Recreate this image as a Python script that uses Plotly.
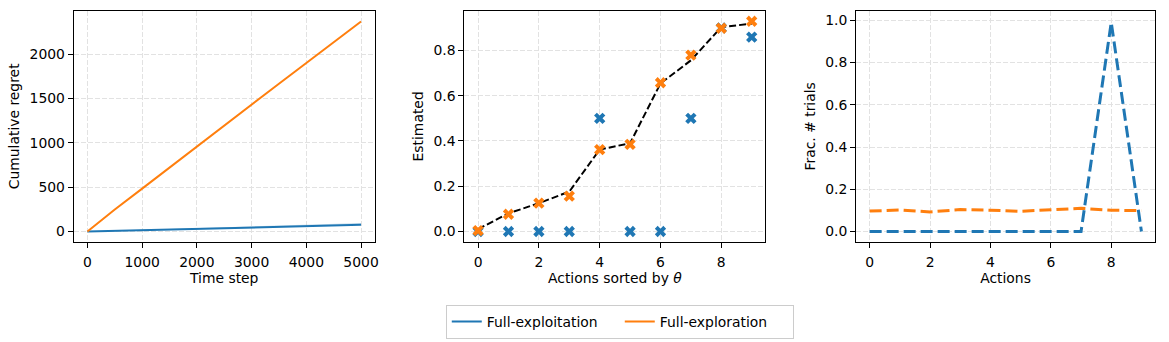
import plotly.graph_objects as go
from plotly.subplots import make_subplots

# ---------------- data ----------------
time_steps = [0, 250, 500, 1000, 1500, 2000, 2500, 3000, 3500, 4000, 4500, 5000]
regret_exploit = [0, 4, 8, 15, 23, 30, 38, 45, 53, 60, 68, 75]
regret_exploit_hi = [0, 5, 10, 19, 28, 38, 47, 57, 66, 76, 86, 95]
regret_explore = [0, 128, 248, 483, 720, 962, 1195, 1427, 1665, 1899, 2130, 2366]

actions = [0, 1, 2, 3, 4, 5, 6, 7, 8, 9]
theta_true = [0.010, 0.080, 0.125, 0.176, 0.362, 0.390, 0.654, 0.756, 0.903, 0.918]
est_exploit = [0.0, 0.0, 0.0, 0.0, 0.5, 0.0, 0.0, 0.5, 0.899, 0.859]
est_explore = [0.004, 0.076, 0.125, 0.156, 0.362, 0.385, 0.657, 0.779, 0.898, 0.929]

frac_exploit = [0.0, 0.0, 0.0, 0.0, 0.0, 0.0, 0.0, 0.0, 0.99, 0.0]
frac_explore = [0.097, 0.102, 0.093, 0.104, 0.101, 0.096, 0.103, 0.110, 0.101, 0.099]

series_names = ["Full-exploitation", "Full-exploration"]
BLUE = "#1f77b4"
ORANGE = "#ff7f0e"
FONT = "DejaVu Sans"
FS = 13.9

fig = make_subplots(rows=1, cols=3)

# Panel 1: cumulative regret
fig.add_trace(go.Scatter(x=time_steps, y=regret_exploit_hi, mode="lines",
                         line=dict(width=0), showlegend=False, hoverinfo="skip"), 1, 1)
fig.add_trace(go.Scatter(x=time_steps, y=regret_exploit, mode="lines",
                         line=dict(width=0), fill="tonexty",
                         fillcolor="rgba(31,119,180,0.25)", showlegend=False, hoverinfo="skip"), 1, 1)
fig.add_trace(go.Scatter(x=time_steps, y=regret_exploit, mode="lines",
                         line=dict(color=BLUE, width=2), name=series_names[0]), 1, 1)
fig.add_trace(go.Scatter(x=time_steps, y=regret_explore, mode="lines",
                         line=dict(color=ORANGE, width=2), name=series_names[1]), 1, 1)

# Panel 2: estimates
fig.add_trace(go.Scatter(x=actions, y=theta_true, mode="lines",
                         line=dict(color="black", width=2, dash="7px,3px"),
                         showlegend=False), 1, 2)
fig.add_trace(go.Scatter(x=actions, y=est_exploit, mode="markers",
                         marker=dict(symbol="x", size=10, color=BLUE, line=dict(width=0)),
                         showlegend=False), 1, 2)
fig.add_trace(go.Scatter(x=actions, y=est_explore, mode="markers",
                         marker=dict(symbol="x", size=10, color=ORANGE, line=dict(width=0)),
                         showlegend=False), 1, 2)

# Panel 3: fraction of trials
fig.add_trace(go.Scatter(x=actions, y=frac_exploit, mode="lines",
                         line=dict(color=BLUE, width=3, dash="12px,5px"),
                         showlegend=False), 1, 3)
fig.add_trace(go.Scatter(x=actions, y=frac_explore, mode="lines",
                         line=dict(color=ORANGE, width=3, dash="12px,5px"),
                         showlegend=False), 1, 3)

W, H = 1169, 342
def xd(a, b):
    return [a / W, b / W]
def yd(top, bot):
    return [1 - bot / H, 1 - top / H]

axis_common = dict(
    showline=True, mirror=True, linecolor="black", linewidth=1,
    ticks="outside", ticklen=5, tickwidth=1, tickcolor="black",
    showgrid=True, gridcolor="#e2e2e2", gridwidth=1, griddash="5px,2px",
    zeroline=False, tickfont=dict(family=FONT, size=FS, color="black"),
)
xextra = dict(ticklabelstandoff=2)

fig.update_layout(
    width=W, height=H, margin=dict(l=0, r=0, t=0, b=0),
    paper_bgcolor="white", plot_bgcolor="white",
    font=dict(family=FONT, size=FS, color="black"),
    xaxis=dict(domain=xd(74, 376), range=[-250, 5250], tickvals=[0, 1000, 2000, 3000, 4000, 5000],
               title=dict(text="Time step", standoff=4, font=dict(size=FS)), **axis_common, **xextra),
    yaxis=dict(domain=yd(10.7, 242), range=[-118.5, 2488], tickvals=[0, 500, 1000, 1500, 2000],
               title=dict(text="Cumulative regret", standoff=6, font=dict(size=FS)), **axis_common),
    xaxis2=dict(domain=xd(466, 768), range=[-0.45, 9.45], tickvals=[0, 2, 4, 6, 8],
                title=dict(text="Actions sorted by <i>θ</i>", standoff=4, font=dict(size=FS)),
                **axis_common, **xextra),
    yaxis2=dict(domain=yd(10.7, 242), range=[-0.0465, 0.9755], tickvals=[0, 0.2, 0.4, 0.6, 0.8],
                tickformat=".1f",
                title=dict(text="Estimated", standoff=6, font=dict(size=FS)), **axis_common),
    xaxis3=dict(domain=xd(859, 1159), range=[-0.45, 9.45], tickvals=[0, 2, 4, 6, 8],
                title=dict(text="Actions", standoff=4, font=dict(size=FS)), **axis_common, **xextra),
    yaxis3=dict(domain=yd(10.7, 242), range=[-0.0495, 1.0455], tickvals=[0, 0.2, 0.4, 0.6, 0.8, 1.0],
                tickformat=".1f",
                title=dict(text="Frac. # trials", standoff=6, font=dict(size=FS)), **axis_common),
    legend=dict(orientation="h", x=0.532, xanchor="center", y=1 - 305 / H, yanchor="top",
                traceorder="normal",
                bgcolor="white", bordercolor="#cccccc", borderwidth=1,
                entrywidth=128, entrywidthmode="pixels",
                font=dict(family=FONT, size=FS, color="black"), itemwidth=30),
)

fig.write_html("out.html")
